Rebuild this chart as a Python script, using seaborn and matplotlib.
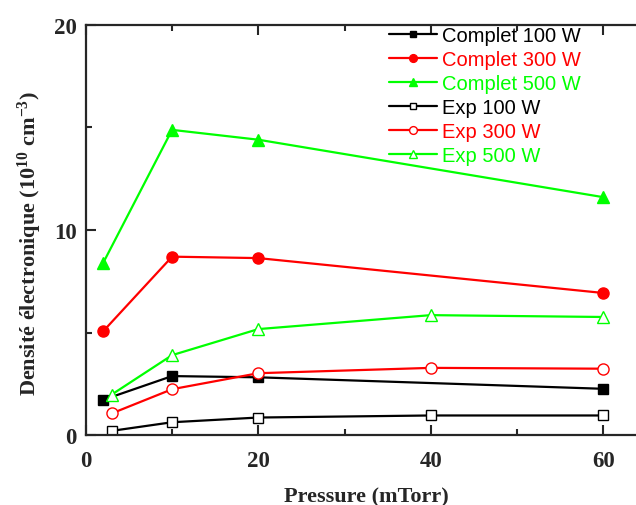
import numpy as np
import pandas as pd
import matplotlib
matplotlib.use("Agg")
import matplotlib.pyplot as plt
import seaborn as sns
from matplotlib.ticker import MultipleLocator

# values
p_complet = [2, 10, 20, 60]
complet_100 = [1.72, 2.88, 2.82, 2.26]
complet_300 = [5.06, 8.70, 8.63, 6.93]
complet_500 = [8.39, 14.88, 14.40, 11.60]

p_exp = [3, 10, 20, 40, 60]
exp_100 = [0.21, 0.63, 0.86, 0.96, 0.96]
exp_300 = [1.06, 2.24, 3.02, 3.28, 3.24]
exp_500 = [1.98, 3.90, 5.17, 5.85, 5.76]

labels = ["Complet 100 W", "Complet 300 W", "Complet 500 W",
          "Exp 100 W", "Exp 300 W", "Exp 500 W"]
colors = ["black", "#ff0000", "#00ff00", "black", "#ff0000", "#00ff00"]
markers = ["s", "o", "^", "s", "o", "^"]
filled = [True, True, True, False, False, False]
msizes = {"s": 7, "o": 8, "^": 8.5}

sns.set_style("ticks")
plt.rcParams["font.family"] = ["Liberation Serif", "DejaVu Serif"]
plt.rcParams["mathtext.fontset"] = "custom"
plt.rcParams["mathtext.rm"] = "Liberation Serif:bold"
plt.rcParams["mathtext.default"] = "rm"

fig = plt.figure(figsize=(6.36, 5.06), dpi=100)
ax = fig.add_axes([0.135, 0.138, 0.865, 0.811])

series = [(p_complet, complet_100), (p_complet, complet_300), (p_complet, complet_500),
          (p_exp, exp_100), (p_exp, exp_300), (p_exp, exp_500)]
for (xs, ys), lab, col, mk, fl in zip(series, labels, colors, markers, filled):
    sns.lineplot(x=xs, y=ys, ax=ax, color=col, marker=mk, label=lab,
                 linewidth=1.6, markersize=msizes[mk],
                 markerfacecolor=col if fl else "white",
                 markeredgecolor=col, markeredgewidth=1.0)

ax.set_xlim(0, 63.8)
ax.set_ylim(0, 20)
ax.xaxis.set_major_locator(MultipleLocator(20))
ax.xaxis.set_minor_locator(MultipleLocator(10))
ax.yaxis.set_major_locator(MultipleLocator(10))
ax.yaxis.set_minor_locator(MultipleLocator(5))
ax.tick_params(which="both", direction="in", top=True, width=1.5, labelsize=16.5)
ax.tick_params(which="major", length=7)
ax.tick_params(which="minor", length=4)
ax.tick_params(axis="x", which="both", pad=10.8)
ax.tick_params(axis="y", which="both", pad=6.5)
for lbl in ax.get_xticklabels() + ax.get_yticklabels():
    lbl.set_fontweight("bold")
ax.spines["right"].set_visible(False)
for s in ["left", "bottom", "top"]:
    ax.spines[s].set_linewidth(1.6)

ax.set_xlabel("Pressure (mTorr)", fontsize=16, fontweight="bold")
ax.set_ylabel("Densité électronique (10$^{10}$ cm$^{-3}$)", fontsize=16,
              fontweight="bold")
ax.xaxis.set_label_coords(0.51, -0.125)
ax.yaxis.set_label_coords(-0.076, 0.47)

leg = ax.legend(loc="upper left", bbox_to_anchor=(0.536, 1.017), frameon=False,
                prop={"family": ["Liberation Sans"], "size": 14.5},
                handlelength=2.4, handletextpad=0.25, labelspacing=0.25,
                markerscale=0.7, borderaxespad=0)
for txt, col in zip(leg.get_texts(), colors):
    txt.set_color(col)

fig.savefig("out.png", dpi=100)
